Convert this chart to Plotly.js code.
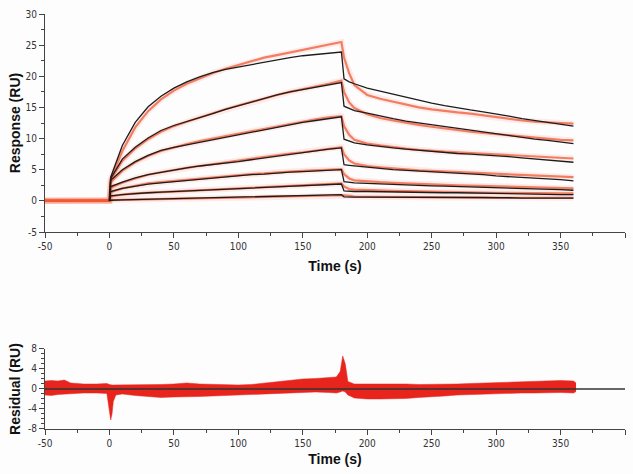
<!DOCTYPE html>
<html>
<head>
<meta charset="utf-8">
<script src="https://cdn.plot.ly/plotly-3.0.1.min.js"></script>
<style>html,body{margin:0;padding:0;background:#fdfdfe;}#chart{width:633px;height:474px;}</style>
</head>
<body>
<div id="chart"></div>
<script>
// ---- data ----
const fitTime = [0,1,10,20,30,40,50,60,70,80,90,100,110,120,130,140,150,160,170,180,182,186,190,200,210,220,230,240,250,260,270,280,290,300,310,320,330,340,350,360];
const fit1 = [0,3.8,8.9,12.6,15.1,16.8,18.1,19.1,19.9,20.6,21.1,21.5,21.9,22.3,22.7,23.0,23.3,23.5,23.7,23.9,19.6,19.1,18.8,18.1,17.6,17.1,16.6,16.1,15.7,15.3,14.9,14.6,14.3,14.0,13.6,13.2,12.9,12.6,12.3,12.0];
const fit2 = [0,3.6,6.7,8.6,10.1,11.3,12.1,12.7,13.4,14.0,14.7,15.3,15.9,16.5,17.0,17.5,17.9,18.3,18.7,19.0,15.2,14.8,14.5,14.1,13.6,13.2,12.8,12.5,12.2,11.9,11.6,11.3,11.0,10.8,10.5,10.2,9.9,9.7,9.4,9.2];
const fit3 = [0,3.3,5.0,6.3,7.3,8.1,8.6,9.0,9.5,9.9,10.3,10.7,11.1,11.5,11.9,12.3,12.6,12.9,13.2,13.5,9.9,9.6,9.3,9.0,8.7,8.5,8.3,8.1,7.9,7.7,7.6,7.5,7.4,7.3,7.1,6.9,6.7,6.5,6.3,6.2];
const fit4 = [0,2.3,3.0,3.7,4.2,4.6,5.0,5.3,5.6,5.8,6.1,6.3,6.6,6.9,7.2,7.5,7.8,8.0,8.3,8.5,5.8,5.7,5.6,5.4,5.2,5.0,4.9,4.7,4.6,4.5,4.4,4.3,4.2,4.0,3.9,3.8,3.6,3.5,3.4,3.2];
const fit5 = [0,1.5,2.0,2.4,2.7,2.9,3.1,3.3,3.5,3.7,3.9,4.0,4.2,4.3,4.5,4.6,4.7,4.8,4.9,5.0,3.1,3.0,2.9,2.8,2.7,2.6,2.55,2.5,2.4,2.35,2.3,2.2,2.15,2.1,2.05,2.0,1.9,1.85,1.8,1.7];
const fit6 = [0,0.8,1.0,1.2,1.3,1.4,1.5,1.6,1.7,1.8,1.9,2.0,2.1,2.2,2.3,2.4,2.5,2.55,2.6,2.7,1.6,1.55,1.5,1.5,1.45,1.45,1.4,1.4,1.35,1.3,1.3,1.25,1.2,1.2,1.15,1.1,1.1,1.05,1.0,1.0];
const fit7 = [0,0.1,0.15,0.2,0.25,0.3,0.35,0.4,0.45,0.5,0.55,0.6,0.65,0.7,0.75,0.8,0.85,0.9,0.95,1.0,0.65,0.6,0.6,0.6,0.6,0.6,0.55,0.55,0.55,0.55,0.5,0.5,0.5,0.5,0.5,0.45,0.45,0.45,0.45,0.45];

const dataTime = [-50,-40,-30,-20,-10,0,1,10,20,30,40,50,60,70,80,90,100,110,120,130,140,150,160,170,180,182,186,190,200,210,220,230,240,250,260,270,280,290,300,310,320,330,340,350,360];
const data1 = [0,0,0,0,0,0,3.5,8.0,11.8,14.4,16.3,17.7,18.8,19.7,20.5,21.2,21.8,22.4,23.0,23.4,23.8,24.2,24.6,25.0,25.5,23.0,20.5,18.6,17.0,16.4,15.9,15.4,15.0,14.7,14.4,14.2,14.0,13.7,13.4,13.1,12.9,12.7,12.6,12.5,12.4];
const data2 = [0,0,0,0,0,0,3.4,6.4,8.4,9.9,11.1,12.0,12.7,13.4,14.0,14.7,15.3,15.9,16.5,17.0,17.5,17.9,18.4,18.8,19.3,17.5,15.8,14.9,13.9,13.3,12.9,12.5,12.2,11.9,11.6,11.3,11.1,10.9,10.7,10.5,10.3,10.1,9.9,9.8,9.7];
const data3 = [0,0,0,0,0,0,3.0,4.8,6.2,7.2,8.0,8.6,9.1,9.6,10.0,10.4,10.8,11.2,11.6,12.0,12.4,12.8,13.1,13.4,13.6,12.0,10.6,9.8,9.2,8.9,8.6,8.4,8.2,8.0,7.9,7.8,7.7,7.6,7.5,7.3,7.2,7.1,7.0,6.9,6.8];
const data4 = [0,0,0,0,0,0,2.1,2.9,3.6,4.2,4.6,5.0,5.3,5.6,5.9,6.2,6.4,6.7,7.0,7.3,7.6,7.8,8.1,8.4,8.6,7.5,6.5,6.0,5.6,5.4,5.2,5.1,4.9,4.8,4.7,4.6,4.5,4.4,4.3,4.2,4.1,4.0,3.9,3.9,3.8];
const data5 = [0,0,0,0,0,0,1.4,2.0,2.4,2.8,3.0,3.2,3.4,3.6,3.8,4.0,4.1,4.3,4.4,4.6,4.7,4.8,4.9,5.0,5.1,4.3,3.6,3.3,3.1,3.0,2.9,2.8,2.7,2.65,2.6,2.5,2.45,2.4,2.35,2.3,2.25,2.2,2.1,2.05,2.0];
const data6 = [0,0,0,0,0,0,0.7,1.0,1.2,1.3,1.4,1.5,1.6,1.7,1.8,1.9,2.0,2.1,2.2,2.3,2.4,2.5,2.6,2.7,2.8,2.3,1.9,1.8,1.7,1.6,1.6,1.55,1.5,1.5,1.45,1.4,1.4,1.35,1.3,1.3,1.25,1.25,1.2,1.2,1.2];
const data7 = [0,0,0,0,0,0,0.1,0.15,0.2,0.25,0.3,0.35,0.4,0.45,0.5,0.55,0.6,0.65,0.7,0.75,0.8,0.85,0.9,0.95,1.0,0.9,0.8,0.7,0.65,0.65,0.6,0.6,0.6,0.6,0.55,0.55,0.55,0.55,0.5,0.5,0.5,0.5,0.5,0.5,0.5];

const residTime = [-50,-45,-40,-35,-30,-20,-10,-2,0,1,2,3,5,10,20,30,40,50,60,70,80,90,100,110,120,130,140,150,160,170,176,179,181,183,185,190,200,210,220,230,240,250,260,270,280,290,300,310,320,330,340,350,360,362];
const residUpper = [1.6,1.7,1.6,1.8,1.2,1.0,1.0,1.1,0.9,0.8,0.8,0.8,0.8,0.8,0.8,0.9,0.9,1.0,1.2,1.0,0.9,0.8,0.8,0.9,1.2,1.5,1.8,2.0,2.1,2.2,2.4,3.5,6.6,5.0,1.5,1.0,1.0,1.1,1.0,1.0,0.9,0.9,1.0,1.0,1.1,1.2,1.3,1.3,1.4,1.5,1.6,1.7,1.6,1.2];
const residLower = [-1.2,-1.3,-1.1,-1.0,-0.9,-0.8,-0.8,-0.9,-4.5,-6.2,-5.0,-2.5,-1.2,-1.0,-1.3,-1.5,-1.7,-1.6,-1.6,-1.5,-1.4,-1.3,-1.2,-1.0,-0.9,-0.8,-0.7,-0.6,-0.6,-0.7,-0.8,-0.6,-0.4,-0.6,-1.2,-1.8,-2.0,-2.0,-2.0,-1.9,-1.7,-1.6,-1.4,-1.2,-1.1,-1.0,-0.9,-0.9,-0.8,-0.8,-0.7,-0.7,-0.8,-0.5];

const xTickVals = [-50,0,50,100,150,200,250,300,350,400];
const xTickText = ['-50','0','50','100','150','200','250','300','350','400'];
const yTopTickVals = [-5,0,5,10,15,20,25,30];
const yTopTickText = ['-5','0','5','10','15','20','25','30'];
const yBotTickVals = [-8,-4,0,4,8];
const yBotTickText = ['-8','-4','0','4','8'];

// ---- traces ----
const dataSets = [data1,data2,data3,data4,data5,data6,data7];
const fitSets = [fit1,fit2,fit3,fit4,fit5,fit6,fit7];
const traces = [];
dataSets.forEach(d => traces.push({x: dataTime, y: d, mode:'lines', xaxis:'x', yaxis:'y',
  line:{color:'rgba(246,120,90,0.13)', width:6}, hoverinfo:'skip', showlegend:false}));
dataSets.forEach(d => traces.push({x: dataTime, y: d, mode:'lines', xaxis:'x', yaxis:'y',
  line:{color:'rgba(240,88,52,0.75)', width:2.2}, showlegend:false}));
fitSets.forEach(f => traces.push({x: fitTime, y: f, mode:'lines', xaxis:'x', yaxis:'y',
  line:{color:'#1c1c1c', width:1.3}, showlegend:false}));
traces.push({x: residTime, y: residLower, mode:'lines', xaxis:'x2', yaxis:'y2',
  line:{color:'#e8251c', width:0.5}, showlegend:false, hoverinfo:'skip'});
traces.push({x: residTime, y: residUpper, mode:'lines', xaxis:'x2', yaxis:'y2', fill:'tonexty',
  fillcolor:'#e8251c', line:{color:'#e8251c', width:0.5}, showlegend:false});

const tickFont = {family:'DejaVu Sans Condensed, Liberation Sans Narrow, Arial Narrow, sans-serif', size:10, color:'#333'};
const titleFont = {family:'Liberation Sans, Arial, sans-serif', size:14, color:'#111'};
const axisCommon = {showline:true, linecolor:'#444', linewidth:1, showgrid:false, zeroline:false,
  ticks:'outside', ticklen:5, tickcolor:'#444', tickfont:tickFont, automargin:false};

const layout = {
  width:633, height:474,
  paper_bgcolor:'#fdfdfe', plot_bgcolor:'#fdfdfe',
  margin:{l:45, r:8, t:14, b:45},
  showlegend:false,
  xaxis: Object.assign({}, axisCommon, {domain:[0,1], anchor:'y', range:[-50,400],
    tickmode:'array', tickvals:xTickVals, ticktext:xTickText,
    minor:{dtick:25, tick0:0, ticks:'outside', ticklen:3, tickcolor:'#444'},
    title:{text:'<b>Time (s)</b>', font:titleFont, standoff:10}}),
  yaxis: Object.assign({}, axisCommon, {domain:[0.4747,1], anchor:'x', range:[-5,30],
    tickmode:'array', tickvals:yTopTickVals, ticktext:yTopTickText,
    minor:{dtick:2.5, tick0:0, ticks:'outside', ticklen:3, tickcolor:'#444'},
    title:{text:'<b>Response (RU)</b>', font:titleFont, standoff:1}}),
  xaxis2: Object.assign({}, axisCommon, {domain:[0,1], anchor:'y2', range:[-50,400],
    tickmode:'array', tickvals:xTickVals, ticktext:xTickText,
    minor:{dtick:25, tick0:0, ticks:'outside', ticklen:3, tickcolor:'#444'},
    title:{text:'<b>Time (s)</b>', font:titleFont, standoff:6}}),
  yaxis2: Object.assign({}, axisCommon, {domain:[0,0.1928], anchor:'x2', range:[-8,8],
    tickmode:'array', tickvals:yBotTickVals, ticktext:yBotTickText,
    minor:{dtick:1, tick0:0, ticks:'outside', ticklen:3, tickcolor:'#444'},
    title:{text:'<b>Residual (RU)</b>', font:titleFont, standoff:4}}),
  shapes:[{type:'line', xref:'x2 domain', yref:'y2', x0:0, x1:1, y0:0, y1:0,
    line:{color:'#333', width:1.5}, layer:'above'}]
};

Plotly.newPlot('chart', traces, layout, {displayModeBar:false, staticPlot:true});
</script>
</body>
</html>
